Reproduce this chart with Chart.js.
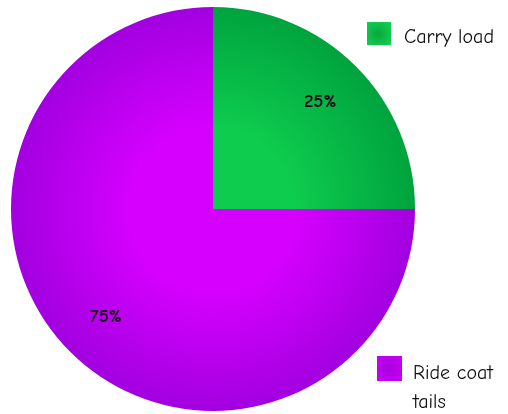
<!DOCTYPE html>
<html>
<head>
<meta charset="utf-8">
<script src="https://cdn.jsdelivr.net/npm/chart.js@4"></script>
<style>
html,body{margin:0;padding:0;background:#fff;}
#wrap{width:508px;height:414px;position:relative;}
</style>
</head>
<body>
<div id="wrap"><canvas id="c" width="508" height="414"></canvas></div>
<script>
const categories = ["Carry load", "Ride coat tails"];
const values = [25, 75];
const percentLabels = ["25%", "75%"];
const innerColors = ["#0ecc4e", "#d600ff"];
const outerColors = ["#00a33e", "#a200e0"];

const FONT = '"Comic Sans MS", "Comic Neue", "Noto Sans", sans-serif';

function radialFill(ctx) {
  const chart = ctx.chart;
  const i = ctx.dataIndex;
  const a = chart.chartArea;
  if (!a) return innerColors[i];
  const cx = (a.left + a.right) / 2;
  const cy = (a.top + a.bottom) / 2;
  const r = Math.min(a.right - a.left, a.bottom - a.top) / 2;
  const g = chart.ctx.createRadialGradient(cx, cy, 0, cx, cy, r);
  g.addColorStop(0, innerColors[i]);
  g.addColorStop(0.4, innerColors[i]);
  g.addColorStop(1, outerColors[i]);
  return g;
}

const labelPlugin = {
  id: 'sliceLabels',
  afterDatasetsDraw(chart) {
    const ctx = chart.ctx;
    const meta = chart.getDatasetMeta(0);
    ctx.save();
    ctx.font = 'bold 19px ' + FONT;
    ctx.fillStyle = '#1c0a1c';
    ctx.textAlign = 'center';
    ctx.textBaseline = 'middle';
    meta.data.forEach((el, i) => {
      const p = el.getProps(['x', 'y', 'startAngle', 'endAngle', 'outerRadius'], true);
      const a = (p.startAngle + p.endAngle) / 2;
      const r = p.outerRadius * 0.75;
      ctx.fillText(percentLabels[i], p.x + Math.cos(a) * r, p.y + Math.sin(a) * r);
    });
    ctx.restore();
  }
};

const legendPlugin = {
  id: 'sideLegend',
  afterDraw(chart) {
    const ctx = chart.ctx;
    ctx.save();
    ctx.font = '20px ' + FONT;
    ctx.textBaseline = 'alphabetic';
    ctx.textAlign = 'left';
    let g = ctx.createRadialGradient(378, 34, 0, 378, 34, 16);
    g.addColorStop(0, '#0aa83e'); g.addColorStop(1, '#10d052');
    ctx.fillStyle = g;
    ctx.fillRect(367, 22, 24, 23);
    ctx.fillStyle = '#111';
    ctx.fillText(categories[0], 404, 43);
    g = ctx.createRadialGradient(389, 368, 0, 389, 368, 16);
    g.addColorStop(0, '#a800e0'); g.addColorStop(1, '#c600f4');
    ctx.fillStyle = g;
    ctx.fillRect(377, 356, 25, 25);
    ctx.fillStyle = '#111';
    const words = categories[1].split(' ');
    ctx.fillText(words.slice(0, 2).join(' '), 413, 379);
    ctx.fillText(words.slice(2).join(' '), 413, 408);
    ctx.restore();
  }
};

new Chart(document.getElementById('c'), {
  type: 'pie',
  data: {
    labels: categories,
    datasets: [{
      data: values,
      backgroundColor: radialFill,
      borderWidth: 0
    }]
  },
  options: {
    responsive: false,
    animation: false,
    layout: { padding: { left: 11, right: 93, top: 7, bottom: 3 } },
    plugins: {
      legend: { display: false },
      tooltip: { enabled: false }
    }
  },
  plugins: [labelPlugin, legendPlugin]
});
</script>
</body>
</html>
